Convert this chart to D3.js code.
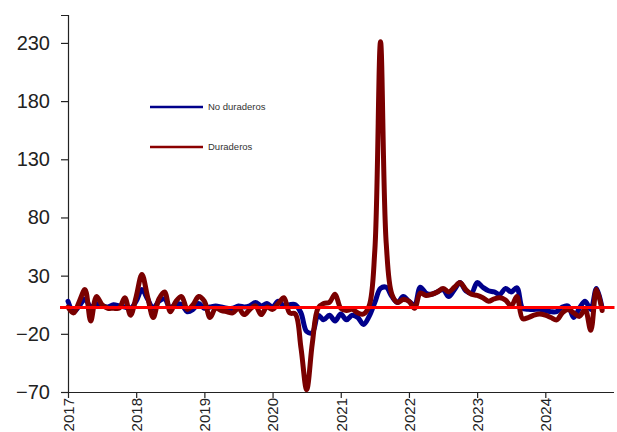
<!DOCTYPE html>
<html>
<head>
<meta charset="utf-8">
<script src="https://cdn.jsdelivr.net/npm/d3@7"></script>
<style>
  html, body { margin: 0; padding: 0; background: #fff; }
  svg { display: block; font-family: "Liberation Sans", Arial, sans-serif; }
</style>
</head>
<body>
<svg id="chart" width="617" height="432"></svg>
<script>
// ---- data (monthly index, 0 = Jan 2017) ----
const yearLabels = ["2017","2018","2019","2020","2021","2022","2023","2024"];
const yTicks = [-70, -20, 30, 80, 130, 180, 230];
const seriesNames = ["No duraderos", "Duraderos"];

const noDuraderos = [
  8, -1, 4, 10, 3, 6, 4, 3, 5, 4, 3, 2,
  8, 18, 10, 2, 8, 10, 2, 6, 5, -1, 1, 6,
  2, 3, 4, 3, 2, 2, 4, 3, 4, 7, 4, 6,
  3, 8, 4, 5, 5, -2, -18, -19, -4, -8, -4, -9,
  -3, -8, -4, -6, -12, -5, 7, 19, 20, 12, 7, 12,
  8, 5, 20, 15, 14, 16, 18, 12, 18, 24, 17, 15,
  24, 20, 17, 16, 14, 19, 16, 19.5, 2, 1, 1, 1,
  0, -1, -1, 3, 4, -6, 2, 8, 1, 19, 2
];
const duraderos = [
  3, -2, 8, 18, -9, 12, 5, 2, 2, 2, 11, -4,
  12, 31, 12, -6, 10, 16, -1, 8, 12, 1, 5, 12,
  8, -6, 2, 0, -1, -2, 2, -3.5, 1, 4, -3.5, 3,
  1, 6, 11, -2, -3, -32, -68, -28, 2, 6, 7, 14,
  2, 0, 1, -2, -3, 4, 52, 231, 58, 14, 7, 9.5,
  8, 2, 15, 13, 14, 16, 19, 16, 20, 24, 18, 14,
  13, 11, 8, 10, 11, 9, 4, 12, -7, -6, -4, -3,
  -4, -6, -8, -2, 1, -2, -5, 1, -17, 18, 0
];
const referenceValue = [2.7];

// ---- layout ----
const svg = d3.select("#chart");
const mLeft = 68, mRight = 613.5, mTop = 15, mBottom = 392;

const x = d3.scaleLinear().domain([0, 96]).range([mLeft, mRight]);
const y = d3.scaleLinear().domain([-70, 254]).range([mBottom, mTop]);

// axes
const yAxis = d3.axisLeft(y).tickValues(yTicks).tickSize(7).tickPadding(11).tickFormat(d3.format("d"));
const gy = svg.append("g").attr("transform", `translate(${mLeft},0)`).call(yAxis);
gy.select(".domain").attr("stroke", "#222").attr("stroke-width", 1.2);
gy.selectAll(".tick line").attr("stroke", "#222").attr("stroke-width", 1.2);
gy.selectAll(".tick text").attr("font-size", 20).attr("fill", "#222")
  .attr("font-family", "'Liberation Sans', Arial, sans-serif");

const xTickVals = yearLabels.map((d, i) => i * 12);
const xAxis = d3.axisBottom(x).tickValues(xTickVals).tickSize(6).tickSizeOuter(0)
  .tickFormat((d, i) => yearLabels[i]);
const gx = svg.append("g").attr("transform", `translate(0,${mBottom})`).call(xAxis);
gx.select(".domain").attr("stroke", "#222").attr("stroke-width", 1.2);
gx.selectAll(".tick line").attr("stroke", "#222").attr("stroke-width", 1.2);
gx.selectAll(".tick text")
  .attr("font-size", 15).attr("fill", "#222")
  .attr("font-family", "'Liberation Sans', Arial, sans-serif")
  .attr("transform", "rotate(-90)")
  .attr("text-anchor", "end")
  .attr("dy", "0.35em")
  .attr("x", -6)
  .attr("y", 0);

// lines
const curve = d3.curveCatmullRom.alpha(0.5);
const line = d3.line().x((d, i) => x(i)).y(d => y(d)).curve(curve);

svg.append("path").datum(noDuraderos)
  .attr("d", line).attr("fill", "none")
  .attr("stroke", "#00008b").attr("stroke-width", 5)
  .attr("stroke-linejoin", "round").attr("stroke-linecap", "round");

svg.append("path").datum(duraderos)
  .attr("d", line).attr("fill", "none")
  .attr("stroke", "#7a0000").attr("stroke-width", 5)
  .attr("stroke-linejoin", "round").attr("stroke-linecap", "round");

// reference line
svg.selectAll(".ref").data(referenceValue).enter().append("line")
  .attr("x1", mLeft - 8).attr("x2", mRight + 1)
  .attr("y1", d => y(d)).attr("y2", d => y(d))
  .attr("stroke", "#ff0000").attr("stroke-width", 3);

// legend
const legendColors = ["#00008b", "#8b0000"];
const legendY = [107, 147];
const lg = svg.append("g");
seriesNames.forEach((name, i) => {
  lg.append("line").attr("x1", 150).attr("x2", 203)
    .attr("y1", legendY[i]).attr("y2", legendY[i])
    .attr("stroke", legendColors[i]).attr("stroke-width", 2.5);
  lg.append("text").attr("x", 208).attr("y", legendY[i]).attr("dy", "0.35em")
    .attr("font-size", 9.5).attr("fill", "#333")
    .attr("font-family", "'Liberation Sans', Arial, sans-serif")
    .text(name);
});
</script>
</body>
</html>
